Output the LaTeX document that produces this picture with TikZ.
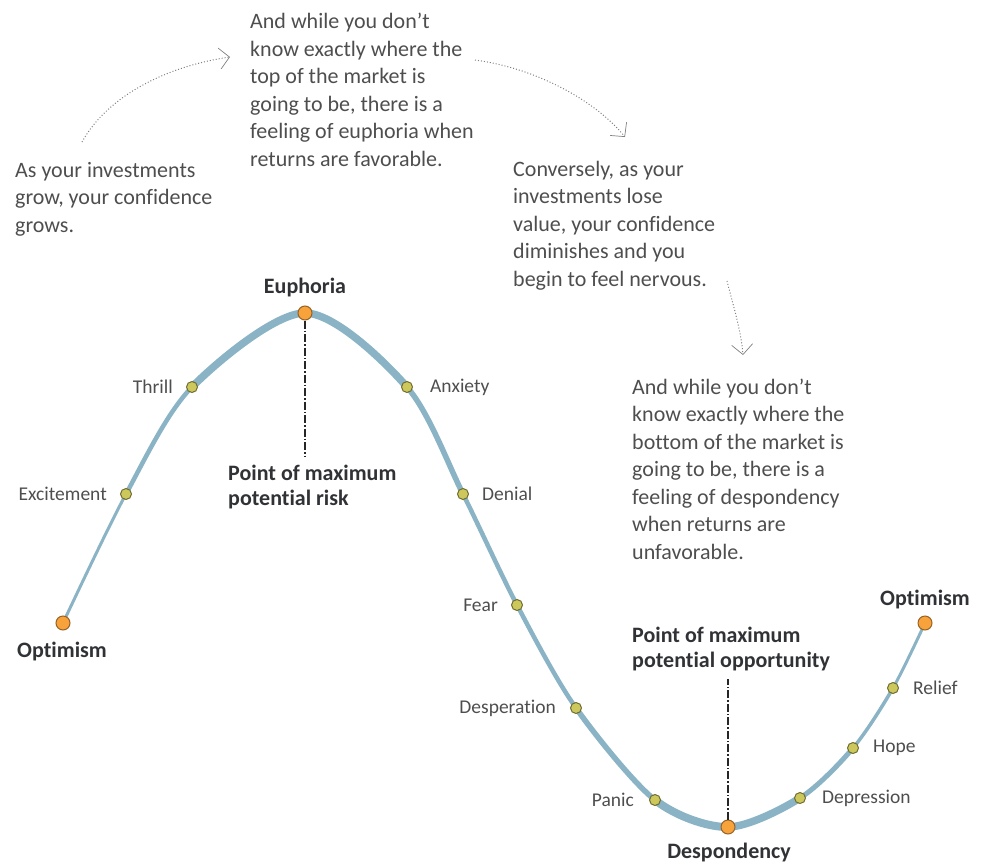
\documentclass[tikz,border=0pt]{standalone}
\usepackage{fontspec}
\setmainfont{Carlito}[Ligatures=NoCommon]
\usetikzlibrary{arrows.meta}

\definecolor{curveblue}{RGB}{138,180,197}
\definecolor{hubfill}{RGB}{247,162,58}
\definecolor{hubring}{RGB}{150,98,40}
\definecolor{stagefill}{RGB}{204,200,92}
\definecolor{stagering}{RGB}{112,108,50}
\definecolor{textgray}{RGB}{78,78,78}
\definecolor{headgray}{RGB}{48,50,54}

\begin{document}
\begin{tikzpicture}[x=1pt,y=-1pt,
    bodytext/.style={anchor=base west,align=left,inner sep=0pt,text=textgray,
        font=\fontsize{22}{27.5}\selectfont},
    headtext/.style={anchor=base west,align=left,inner sep=0pt,text=headgray,
        font=\fontsize{22}{25}\selectfont\bfseries},
    stagelabel/.style={inner sep=0pt,text=textgray,font=\fontsize{19.5}{22}\selectfont},
    hublabel/.style={anchor=base,inner sep=0pt,text=headgray,font=\fontsize{22}{25}\selectfont\bfseries},
    stagedot/.style={circle,inner sep=0pt,minimum size=11pt,fill=stagefill,
        draw=stagering,line width=1pt},
    hubdot/.style={circle,inner sep=0pt,minimum size=14pt,fill=hubfill,
        draw=hubring,line width=1pt},
    curveline/.style={draw=curveblue,line cap=round},
    dropline/.style={draw=black!85,line width=1.2pt,
        dash pattern=on 8pt off 2pt on 1.5pt off 2pt},
    notearrow/.style={draw=black!50,line width=1pt,dash pattern=on 1pt off 2pt,
        -{Straight Barb[length=10pt,width=21pt,line width=0.7pt]}},
]
\useasboundingbox (0,0) rectangle (987,867);
\coordinate (top) at (0,0);
\coordinate (bottom) at (0,867);

% points along the cycle
\foreach \name/\x/\y in {o1/63/623, exc/126/494, thr/192/387, eup/305/313,
    anx/407/387, den/463/494, fear/517/605, desp/576/708, pan/655/800,
    dsp/728/827, dep/800/798, hope/853/748, rel/893/688, o2/925/623}
{
    \coordinate (\name) at (\x,\y);
}

% the cycle, thicker towards the peak and the trough
\foreach \a/\b/\w in {o1/exc/3, exc/thr/4.5, thr/eup/7.5, eup/anx/7.5, anx/den/5.5,
    den/fear/4.5, fear/desp/4.5, desp/pan/5.5, pan/dsp/8, dsp/dep/7.5,
    dep/hope/5, hope/rel/3.5, rel/o2/3}
{
    \begin{scope}
        \clip (\a |- top) rectangle (\b |- bottom);
        \draw[curveline,line width=\w pt] plot[smooth] coordinates {(o1) (exc) (thr)
            (eup) (anx) (den) (fear) (desp) (pan) (dsp) (dep) (hope) (rel) (o2)};
    \end{scope}
}

% stages, text to the left or right of each dot
\foreach \p/\anc/\edge/\dx/\txt in {exc/east/west/-13/Excitement, thr/east/west/-13/Thrill,
    anx/west/east/17/Anxiety, den/west/east/13/Denial, fear/east/west/-13/Fear,
    desp/east/west/-14/Desperation, pan/east/west/-15/Panic,
    dep/west/east/16/Depression, hope/west/east/14/Hope, rel/west/east/14/Relief}
{
    \node[stagedot] (dot-\p) at (\p) {};
    \node[stagelabel,anchor=\anc] (lab-\p) at ([xshift=\dx pt]dot-\p.\edge) {\txt};
}
\node[hubdot] (dot-o1) at (o1) {};
\node[hubdot] (dot-eup) at (eup) {};
\node[hubdot] (dot-dsp) at (dsp) {};
\node[hubdot] (dot-o2) at (o2) {};
\node[hublabel] (lab-o1) at (62,657) {Optimism};
\node[hublabel] (lab-eup) at (305,293) {Euphoria};
\node[hublabel] (lab-dsp) at (729,858) {Despondency};
\node[hublabel] (lab-o2) at (925,605) {Optimism};

% extremes
\node[headtext] (risk) at (228,505) {Point of maximum\\potential risk};
\node[headtext] (chance) at (632,667) {Point of maximum\\potential opportunity};
\draw[dropline,shorten >=8pt] (dot-eup) -- (dot-eup |- risk.north);
\draw[dropline,shorten >=8pt] (dot-dsp) -- (dot-dsp |- chance.south);

% notes
\node[bodytext] (grow) at (15,232) {As your investments\\grow, your confidence\\grows.};
\node[bodytext] (peak) at (250,166) {And while you don’t\\know exactly where the\\top of the market is\\going to be, there is a\\feeling of euphoria when\\returns are favorable.};
\node[bodytext] (lose) at (513,286) {Conversely, as your\\investments lose\\value, your confidence\\diminishes and you\\begin to feel nervous.};
\node[bodytext] (trough) at (632,559) {And while you don’t\\know exactly where the\\bottom of the market is\\going to be, there is a\\feeling of despondency\\when returns are\\unfavorable.};

\coordinate (a1s) at (82,142);
\coordinate (a1e) at (230,57);
\coordinate (a2s) at (475,60);
\coordinate (a2e) at (625,137);
\coordinate (a3s) at (727,281);
\coordinate (a3e) at (743,355);
\draw[notearrow] (a1s) .. controls (108,95) and (168,66) .. (a1e);
\draw[notearrow] (a2s) .. controls (535,68) and (595,100) .. (a2e);
\draw[notearrow] (a3s) .. controls (733,305) and (741,330) .. (a3e);
\end{tikzpicture}
\end{document}
